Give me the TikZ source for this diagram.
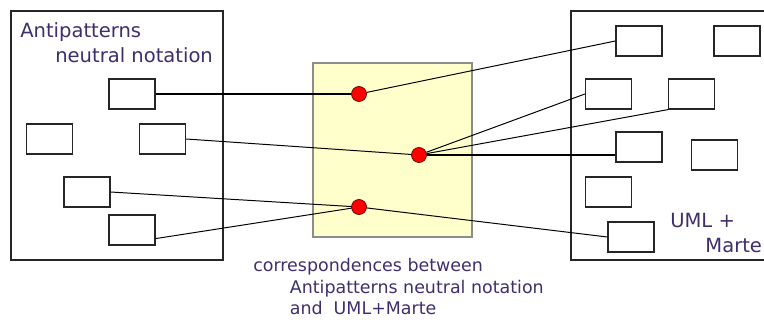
\documentclass[tikz,border=0pt]{standalone}
\usepackage{fontspec}
\setmainfont{DejaVu Sans}
\usetikzlibrary{positioning,calc}
\definecolor{inkpurple}{HTML}{3F2E6E}
\definecolor{corryellow}{HTML}{FFFFCC}

\begin{document}
\begin{tikzpicture}[
  x=0.025cm, y=-0.025cm,
  panel/.style={draw=black!85, line width=1pt, inner sep=0, minimum height=6.225cm},
  elem/.style={draw=black!85, line width=0.9pt, fill=white, inner sep=0,
               minimum width=1.15cm, minimum height=0.75cm},
  corr/.style={draw=black!45, fill=corryellow, line width=0.8pt, inner sep=0},
  hub/.style={circle, draw=black!60!red, fill=red, line width=0.5pt, inner sep=0,
              minimum size=0.375cm},
  lnk/.style={draw=black, line width=0.7pt},
  strong/.style={lnk, line width=1.4pt},
  lbl/.style={text=inkpurple, align=left, anchor=base west, inner sep=0,
              font=\fontsize{13.9}{17.8}\selectfont},
  captxt/.style={lbl, font=\fontsize{12.4}{15.6}\selectfont},
]
\clip (0,0) rectangle (764,320);

% ---- the two models and the mapping between them ----
\node[panel, minimum width=5.3cm]  (lpanel) at (117,135.5) {};
\node[panel, minimum width=5.75cm] (rpanel) at (686,135.5) {};
\node[corr, minimum width=3.975cm, minimum height=4.35cm] (map) at (392.5,150) {};

% base anchor sits on the last line
\node[lbl] (ltitle) at (20,63) {Antipatterns\\ \hspace*{24.9pt}neutral notation};
\node[lbl] (rtitle) at (670,253) {UML +\\ \hspace*{25pt}Marte};

% ---- neutral notation elements ----
\node[elem] (la) at (132,94)    {};
\node[elem] (lb) at (49.5,139)  {};
\node[elem] (lc) at (162.5,139) {};
\node[elem] (ld) at (87,192)    {};
\node[elem] (le) at (132,230)   {};

% ---- UML + Marte elements ----
\node[elem] (ra) at (639,41)    {};
\node[elem] (rb) at (737,41)    {};
\node[elem] (rc) at (608.5,94)  {};
\node[elem] (rd) at (691.5,94)  {};
\node[elem] (re) at (639,147)   {};
\node[elem] (rf) at (714.5,155) {};
\node[elem] (rg) at (608.5,192) {};
\node[elem] (rh) at (631,237)   {};

% ---- correspondences ----
\node[hub] (d1) at (359,94)  {};
\node[hub] (d2) at (419,155) {};
\node[hub] (d3) at (359,207) {};

\draw[strong] (la.east) -- (d1);
\draw[strong] (d2) -- (d2 -| re.west);
\foreach \a/\b in {lc.east/d2, ld.east/d3, le.-20/d3,
                   d1/ra.west, d2/rc.west, d2/rd.south west, d3/rh.west}
  \draw[lnk] (\a) -- (\b);

\node[captxt] (note) at (253,315)
  {correspondences between\\
   \hspace*{26pt}Antipatterns neutral notation\\
   \hspace*{26pt}and\ \ UML+Marte};

\end{tikzpicture}
\end{document}
